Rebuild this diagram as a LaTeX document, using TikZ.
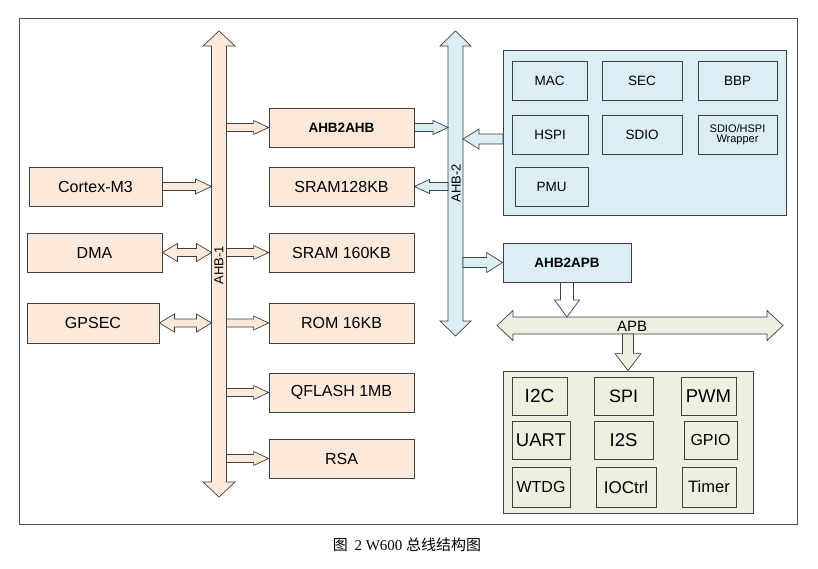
\documentclass[tikz,border=0pt]{standalone}
\usepackage{fontspec}
\setmainfont{Liberation Sans}
\newfontfamily\cjk{Noto Sans CJK SC}
\newfontfamily\serif{Liberation Serif}
\usetikzlibrary{calc}
\definecolor{peach}{RGB}{253,233,217}
\definecolor{lblue}{RGB}{218,238,243}
\definecolor{lgreen}{RGB}{235,241,222}
\definecolor{edge}{RGB}{64,64,64}
\definecolor{frame}{RGB}{80,80,80}
\newcommand\fsz[1]{\fontsize{#1}{#1}\selectfont}
% horizontal single fat arrow
\newcommand\hArr[6][]{%
 \filldraw[fat,#1] let \p1=#2, \p2=#3, \n1={(\x2>\x1)?1:-1} in
 (\x1,{\y1+#4}) -- ({\x2-(\n1)*#6},{\y1+#4}) -- ({\x2-(\n1)*#6},{\y1+#5}) -- (\x2,\y1)
 -- ({\x2-(\n1)*#6},{\y1-#5}) -- ({\x2-(\n1)*#6},{\y1-#4}) -- (\x1,{\y1-#4}) -- cycle;}
% vertical single fat arrow
\newcommand\vArr[6][]{%
 \filldraw[fat,#1] let \p1=#2, \p2=#3, \n1={(\y2>\y1)?1:-1} in
 ({\x1+#4},\y1) -- ({\x1+#4},{\y2-(\n1)*#6}) -- ({\x1+#5},{\y2-(\n1)*#6}) -- (\x1,\y2)
 -- ({\x1-#5},{\y2-(\n1)*#6}) -- ({\x1-#4},{\y2-(\n1)*#6}) -- ({\x1-#4},\y1) -- cycle;}
% horizontal double fat arrow
\newcommand\hDArr[6][]{%
 \filldraw[fat,#1] let \p1=#2, \p2=#3, \n1={(\x2>\x1)?1:-1} in
 (\x1,\y1) -- ({\x1+(\n1)*#6},{\y1+#5}) -- ({\x1+(\n1)*#6},{\y1+#4}) -- ({\x2-(\n1)*#6},{\y1+#4})
 -- ({\x2-(\n1)*#6},{\y1+#5}) -- (\x2,\y1) -- ({\x2-(\n1)*#6},{\y1-#5}) -- ({\x2-(\n1)*#6},{\y1-#4})
 -- ({\x1+(\n1)*#6},{\y1-#4}) -- ({\x1+(\n1)*#6},{\y1-#5}) -- cycle;}
% vertical double fat arrow
\newcommand\vDArr[6][]{%
 \filldraw[fat,#1] let \p1=#2, \p2=#3, \n1={(\y2>\y1)?1:-1} in
 (\x1,\y1) -- ({\x1+#5},{\y1+(\n1)*#6}) -- ({\x1+#4},{\y1+(\n1)*#6}) -- ({\x1+#4},{\y2-(\n1)*#6})
 -- ({\x1+#5},{\y2-(\n1)*#6}) -- (\x1,\y2) -- ({\x1-#5},{\y2-(\n1)*#6}) -- ({\x1-#4},{\y2-(\n1)*#6})
 -- ({\x1-#4},{\y1+(\n1)*#6}) -- ({\x1-#5},{\y1+(\n1)*#6}) -- cycle;}
% box by corners
\newcommand\boxat[7]{%
 \node[box,#6,minimum width={#4-#2},minimum height={#5-#3}] (#1) at ({(#2+#4)/2},{(#3+#5)/2}) {#7};}
\begin{document}
\begin{tikzpicture}[x=1pt,y=-1pt,
  fat/.style={draw=edge,line width=0.7pt,line join=miter},
  box/.style={draw=edge,line width=0.8pt,inner sep=0pt,align=center,font=\fsz{16}},
  pbox/.style={fill=peach},
  bbox/.style={fill=lblue},
  gbox/.style={fill=lgreen},
  pa/.style={fill=peach},
  ba/.style={fill=lblue},
  ga/.style={fill=lgreen},
  wa/.style={fill=white},
  buslabel/.style={font=\fsz{13},inner sep=0pt}]
\useasboundingbox (0,0) rectangle (818,569);
\fill[white] (0,0) rectangle (818,569);
\draw[frame,line width=0.9pt] (19,18) rectangle (797,524);

% bus coordinates
\coordinate (a1t) at (219,31);
\coordinate (a1b) at (219,497);
\coordinate (a1w) at (211.5,0);
\coordinate (a1e) at (226.5,0);
\coordinate (a2t) at (455.5,31);
\coordinate (a2b) at (455.5,336);
\coordinate (a2w) at (448,0);
\coordinate (a2e) at (463,0);
\coordinate (apl) at (497,325.5);
\coordinate (apr) at (783,325.5);
\coordinate (aptop) at (0,317);
\coordinate (apbot) at (628,334);
\coordinate (bbin) at (503,139);

% buses
\vDArr[pa]{(a1t)}{(a1b)}{7.5pt}{16pt}{15pt}
\vDArr[ba]{(a2t)}{(a2b)}{7.5pt}{15.5pt}{15pt}
\hDArr[ga]{(apl)}{(apr)}{8.5pt}{15pt}{16pt}
\node[buslabel,rotate=90] (l1) at (219,265) {AHB-1};
\node[buslabel,rotate=90] (l2) at (456,183) {AHB-2};
\node[font=\fsz{15},inner sep=0pt] (l3) at (632,326) {APB};

% left column
\boxat{cm3}{29}{167}{162}{206}{pbox}{Cortex-M3}
\boxat{dma}{27}{233}{162}{272}{pbox}{DMA}
\boxat{gps}{27}{303}{159}{343}{pbox}{GPSEC}

% middle column
\boxat{ahb}{269}{108}{414}{147}{pbox,font=\fsz{13.5}\bfseries}{AHB2AHB}
\boxat{s128}{269}{167}{414}{206}{pbox}{SRAM128KB}
\boxat{s160}{269}{233}{414}{272}{pbox}{SRAM 160KB}
\boxat{rom}{269}{303}{414}{343}{pbox}{ROM 16KB}
\boxat{qfl}{269}{373}{414}{412}{pbox}{QFLASH 1MB}
\boxat{rsa}{269}{439}{414}{478}{pbox}{RSA}

% blue group
\boxat{bgrp}{503}{50}{786}{215}{bbox}{}
\boxat{mac}{512}{61}{587}{100}{bbox,font=\fsz{13.5}}{MAC}
\boxat{sec}{602}{61}{682}{100}{bbox,font=\fsz{13.5}}{SEC}
\boxat{bbp}{698}{61}{777}{100}{bbox,font=\fsz{13.5}}{BBP}
\boxat{hspi}{512}{115}{588}{154}{bbox,font=\fsz{13.5}}{HSPI}
\boxat{sdio}{602}{115}{682}{154}{bbox,font=\fsz{13.5}}{SDIO}
\boxat{wrap}{698}{115}{777}{154}{bbox,font=\fsz{11}}{SDIO/HSPI\\[-1pt]Wrapper}
\boxat{pmu}{515}{167}{588}{206}{bbox,font=\fsz{13.5}}{PMU}
\boxat{apbb}{503}{243}{631}{282}{bbox,font=\fsz{13.5}\bfseries}{AHB2APB}

% green group
\boxat{ggrp}{503}{371}{753}{513}{gbox}{}
\boxat{i2c}{512}{377}{567}{415}{gbox,font=\fsz{19}}{I2C}
\boxat{spi}{594}{377}{653}{415}{gbox,font=\fsz{18}}{SPI}
\boxat{pwm}{681}{377}{736}{415}{gbox,font=\fsz{18.5}}{PWM}
\boxat{uart}{512}{421}{570}{459}{gbox,font=\fsz{18.5}}{UART}
\boxat{i2s}{594}{421}{653}{459}{gbox,font=\fsz{18.5}}{I2S}
\boxat{gpio}{684}{421}{737}{459}{gbox,font=\fsz{16}}{GPIO}
\boxat{wtdg}{512}{467}{570}{507}{gbox,font=\fsz{16}}{WTDG}
\boxat{ioc}{596}{467}{656}{507}{gbox,font=\fsz{17}}{IOCtrl}
\boxat{tim}{682}{467}{736}{507}{gbox,font=\fsz{16.5}}{Timer}

% connectors
\hArr[pa]{(cm3.east)}{(cm3.east -| a1w)}{4pt}{7.5pt}{16pt}
\hDArr[pa]{(dma.east)}{(dma.east -| a1w)}{4pt}{9pt}{15pt}
\hDArr[pa]{(gps.east)}{(gps.east -| a1w)}{4pt}{9pt}{15pt}
\hArr[pa]{(a1e |- ahb.west)}{(ahb.west)}{4pt}{7pt}{15pt}
\hArr[pa]{(a1e |- s160.west)}{(s160.west)}{4pt}{7pt}{15pt}
\hArr[pa]{(a1e |- rom.west)}{(rom.west)}{4pt}{7pt}{15pt}
\hArr[pa]{(a1e |- qfl.west)}{(qfl.west)}{4pt}{7pt}{15pt}
\hArr[pa]{(a1e |- rsa.west)}{(rsa.west)}{4pt}{7pt}{15pt}
\hArr[ba]{(ahb.east)}{(ahb.east -| a2w)}{4pt}{7pt}{15pt}
\hArr[ba]{(a2w |- s128.east)}{(s128.east)}{4pt}{7pt}{15pt}
\hArr[ba]{(bbin)}{(bbin -| a2e)}{5pt}{10pt}{16pt}
\hArr[ba]{(a2e |- apbb.west)}{(apbb.west)}{5pt}{10pt}{16pt}
\vArr[wa]{(apbb.south)}{(apbb.south |- aptop)}{6.5pt}{12.5pt}{17pt}
\vArr[ga]{(apbot)}{(apbot |- ggrp.north)}{5.5pt}{13pt}{17pt}

% caption
\node[inner sep=0pt,font=\fsz{15}] (cap) at (407,545) {\cjk 图\ \ \serif 2 W600 \cjk 总线结构图};
\end{tikzpicture}
\end{document}
